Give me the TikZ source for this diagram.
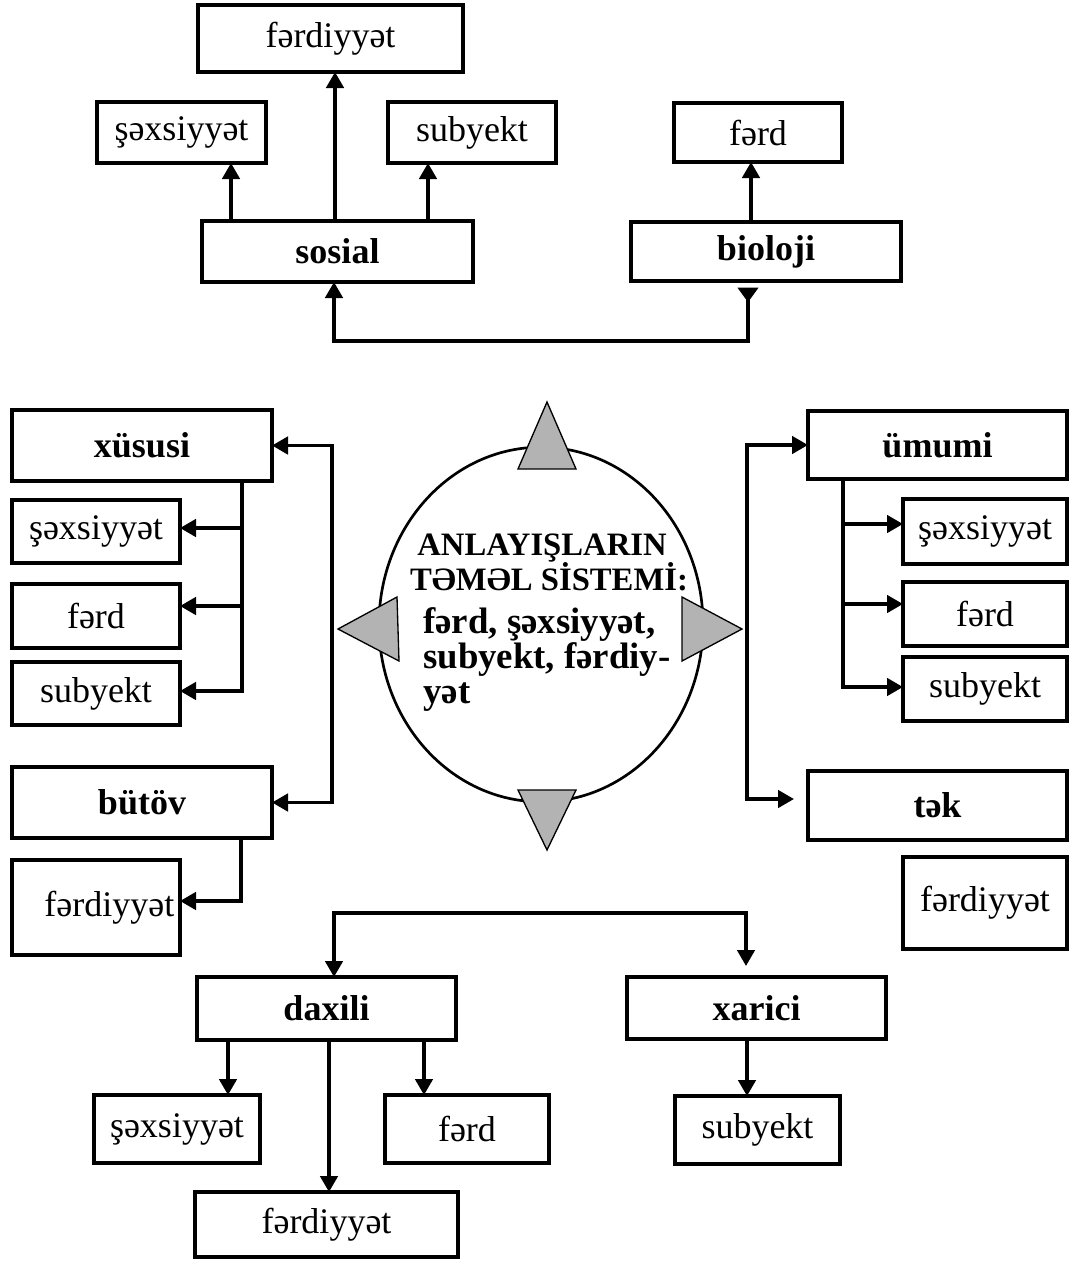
\documentclass[tikz,border=0pt]{standalone}
\usepackage{fontspec}
\setmainfont{Liberation Serif}
\usetikzlibrary{arrows.meta,shapes.geometric}
\definecolor{trigray}{HTML}{B3B3B3}
\newcommand{\mysize}{\fontsize{27}{30}\selectfont}
\newcommand{\midsize}{\fontsize{27.6}{30}\selectfont}
\newcommand{\titlesize}{\fontsize{24.5}{27}\selectfont}
% \bx{style}{x1}{y1}{x2}{y2}{name} {text};
\newcommand{\bx}[6]{\node[#1, minimum width={(#4-#2)*0.75pt}, minimum height={(#5-#3)*0.75pt}] (#6) at ({(#2+#4)/2},{(#3+#5)/2})}
\tikzset{
  box/.style={draw, line width=2.7pt, inner sep=0pt, outer sep=0pt, rectangle, font=\mysize},
  bbox/.style={box, font=\mysize\bfseries},
  arr/.style={line width=2.7pt, -{Triangle[length=12pt,width=13pt]}},
  arrtwo/.style={line width=2.7pt, {Triangle[length=12pt,width=13pt]}-{Triangle[length=12pt,width=13pt]}},
  tri/.style={draw, line width=1pt, fill=trigray, line join=miter},
  ctext/.style={font=\midsize\bfseries, inner sep=0pt, anchor=base west},
  ttext/.style={font=\titlesize\bfseries, inner sep=0pt, anchor=base},
}
\begin{document}
\begin{tikzpicture}[x=0.75pt,y=-0.75pt]
\useasboundingbox (0,0) rectangle (1070,1261);

% ---------- top group ----------
\bx{box}{198}{5}{463}{72}{fd1} {fərdiyyət};
\bx{box}{97}{102}{266}{163}{sx1} {şəxsiyyət};
\bx{box}{388}{102}{556}{163}{sb1} {subyekt};
\bx{bbox}{202}{221}{473}{282}{sos} {sosial};
\bx{box}{674}{103}{842}{162}{fr1} {fərd};
\bx{bbox}{631}{222}{901}{281}{bio} {bioloji};

\draw[arr] (sos.north -| 231,0) -- (sx1.south -| 231,0);
\draw[arr] (sos.north -| 335,0) -- (fd1.south -| 335,0);
\draw[arr] (sos.north -| 428,0) -- (sb1.south -| 428,0);
\draw[arr] (bio.north -| 751,0) -- (fr1.south -| 751,0);
\coordinate (loop) at (748,341);
\draw[line width=2.7pt, {Triangle[length=12pt,width=13pt]}-{Triangle[length=11pt,width=15pt,reversed]}, shorten >=5pt]
  (sos.south -| 334,0) |- (loop) -- (bio.south -| loop);

% ---------- left group ----------
\bx{bbox}{12}{410}{272}{481}{xus} {xüsusi};
\bx{box}{12}{500}{180}{563}{sx2} {şəxsiyyət};
\bx{box}{12}{584}{180}{648}{fd2} {fərd};
\bx{box}{12}{662}{180}{725}{sb2} {subyekt};
\bx{bbox}{12}{767}{272}{838}{but} {bütöv};
\bx{box}{12}{860}{180}{955}{fy2} {\hspace*{20pt}fərdiyyət};

\coordinate (lb) at (332,620);
\draw[arrtwo] (xus.east) -| (lb) |- (but.east);
\draw[arr] (xus.south -| 242,0) |- (sx2.east |- 0,528);
\draw[arr] (xus.south -| 242,0) |- (fd2.east |- 0,606);
\draw[arr] (xus.south -| 242,0) |- (sb2.east |- 0,691);
\draw[arr] (but.south -| 241,0) |- (fy2.east |- 0,901);

% ---------- right group ----------
\bx{bbox}{808}{411}{1067}{479}{umu} {ümumi};
\bx{box}{903}{499}{1067}{564}{sx3} {şəxsiyyət};
\bx{box}{903}{582}{1067}{646}{fd3} {fərd};
\bx{box}{903}{657}{1067}{721}{sb3} {subyekt};
\bx{bbox}{808}{771}{1067}{840}{tek} {tək};
\bx{box}{903}{857}{1067}{949}{fy3} {fərdiyyət};

\coordinate (rb) at (747,620);
\coordinate (tekin) at (794,799);
\draw[arrtwo] (umu.west) -| (rb) |- (tekin);
\draw[arr] (umu.south -| 843,0) |- (sx3.west |- 0,524);
\draw[arr] (umu.south -| 843,0) |- (fd3.west |- 0,604);
\draw[arr] (umu.south -| 843,0) |- (sb3.west |- 0,687);

% ---------- bottom group ----------
\bx{bbox}{197}{977}{456}{1040}{dax} {daxili};
\bx{bbox}{627}{977}{886}{1039}{xar} {xarici};
\bx{box}{94}{1095}{260}{1163}{sx4} {şəxsiyyət};
\bx{box}{385}{1095}{549}{1163}{fd4} {fərd};
\bx{box}{675}{1096}{840}{1164}{sb4} {subyekt};
\bx{box}{195}{1192}{458}{1257}{fy4} {fərdiyyət};

\coordinate (xin) at (746,966);
\draw[arrtwo] (dax.north -| 334,0) |- (xin |- 0,913) -- (xin);
\draw[arr] (dax.south -| 228,0) -- (sx4.north -| 228,0);
\draw[arr] (dax.south -| 329,0) -- (fy4.north -| 329,0);
\draw[arr] (dax.south -| 424,0) -- (fd4.north -| 424,0);
\draw[arr] (xar.south -| 747,0) -- (sb4.north -| 747,0);

% ---------- centre ----------
\node[ellipse, draw, line width=2pt, minimum width=243pt, minimum height=266pt, inner sep=0pt] (core) at (541,624.5) {};
\draw[tri] (547,402) -- (518,469) -- (576,469) -- cycle;
\draw[tri] (518,790) -- (576,790) -- (547,850) -- cycle;
\draw[tri] (338,629) -- (397,597) -- (399,661) -- cycle;
\draw[tri] (742,629) -- (682,597) -- (682,661) -- cycle;

\node[ttext] (t1) at (542,555) {ANLAYIŞLARIN};
\node[ttext] (t2) at (549,590) {TƏMƏL SİSTEMİ:};
\node[ctext] (t3) at (423,633) {fərd, şəxsiyyət,};
\node[ctext] (t4) at (423,668) {subyekt, fərdiy-};
\node[ctext] (t5) at (423,703) {yət};
\end{tikzpicture}
\end{document}
